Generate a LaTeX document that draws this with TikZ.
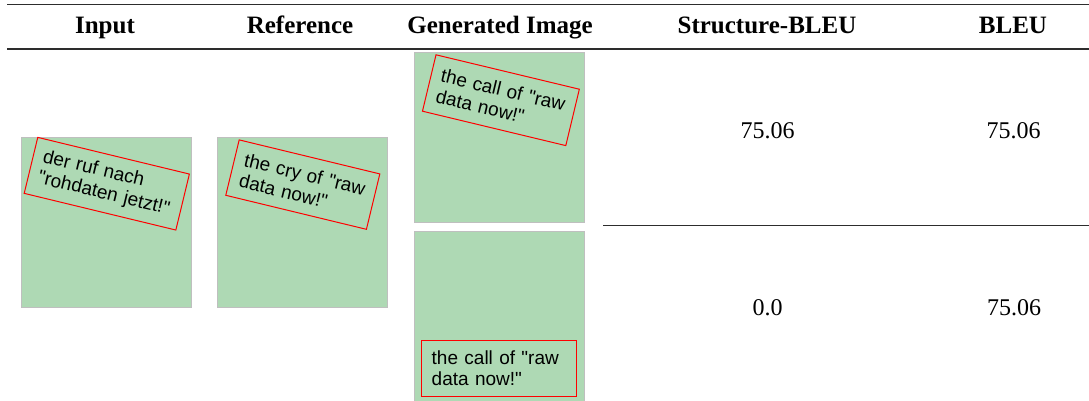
\documentclass[tikz,border=0pt]{standalone}
\usepackage{fontspec}
\setmainfont{Liberation Serif}
\newfontfamily\arialfont{Liberation Sans}
\definecolor{cellgreen}{RGB}{174,217,180}
\definecolor{rulegray}{RGB}{45,45,45}

\begin{document}
\begin{tikzpicture}[x=1pt,y=-1pt,
    head/.style={anchor=base,font=\fontsize{25}{30}\selectfont\bfseries},
    score/.style={anchor=base,font=\fontsize{24}{28}\selectfont},
    cell/.style={draw=black!25,line width=0.8pt,fill=cellgreen,minimum width=170pt,minimum height=170pt,inner sep=0pt},
    textbox/.style={draw=red,line width=1pt,inner xsep=10pt,inner ysep=0pt,align=left,font=\arialfont\fontsize{19}{21.5}\selectfont},
    tablerule/.style={draw=rulegray,line width=1.7pt}] %Tabla de resultados
    \useasboundingbox (0,0) rectangle (1089,400);

    % cabecera
    \draw[tablerule] (7,4.5) -- (1089,4.5);
    \node[head] (hinput) at (105,33.5) {Input};
    \node[head] (hreference) at (300,33.5) {Reference};
    \node[head] (hgenerated) at (500,33.5) {Generated Image};
    \node[head] (hstructure) at (767,33.5) {Structure-BLEU};
    \node[head] (hbleu) at (1013,33.5) {BLEU};
    \draw[tablerule] (7,49.3) -- (1089,49.3);

    % imagenes
    \node[cell] (inputimg) at (106.5,222) {};
    \node[cell] (referenceimg) at (302,222) {};
    \node[cell] (genimga) at (499,137) {};
    \node[cell] (genimgb) at (499,316) {};

    \node[textbox,rotate=-13.6,minimum width=156pt,minimum height=57.6pt,text width=136pt] (inputtxt) at (106.8,183.7) {der ruf nach\\"rohdaten jetzt!"};
    \node[textbox,rotate=-13.6,minimum width=144.7pt,minimum height=57pt,text width=124.7pt] (referencetxt) at (302.8,184.6) {the cry of "raw\\data now!"};
    \node[textbox,rotate=-13.5,minimum width=147.4pt,minimum height=58pt,text width=127.4pt] (gentxta) at (500.9,100.2) {the call of "raw\\data now!"};
    \node[textbox,minimum width=155pt,minimum height=56pt,text width=135pt] (gentxtb) at (499.2,368) {the call of "raw\\data now!"};

    % puntuaciones
    \node[score] (structurea) at (767.5,138) {75.06};
    \node[score] (bleua) at (1013.5,138) {75.06};
    \draw[tablerule] (603,225.5) -- (1089,225.5);
    \node[score] (structureb) at (767.5,315) {0.0};
    \node[score] (bleub) at (1014,315) {75.06};
\end{tikzpicture}
\end{document}
